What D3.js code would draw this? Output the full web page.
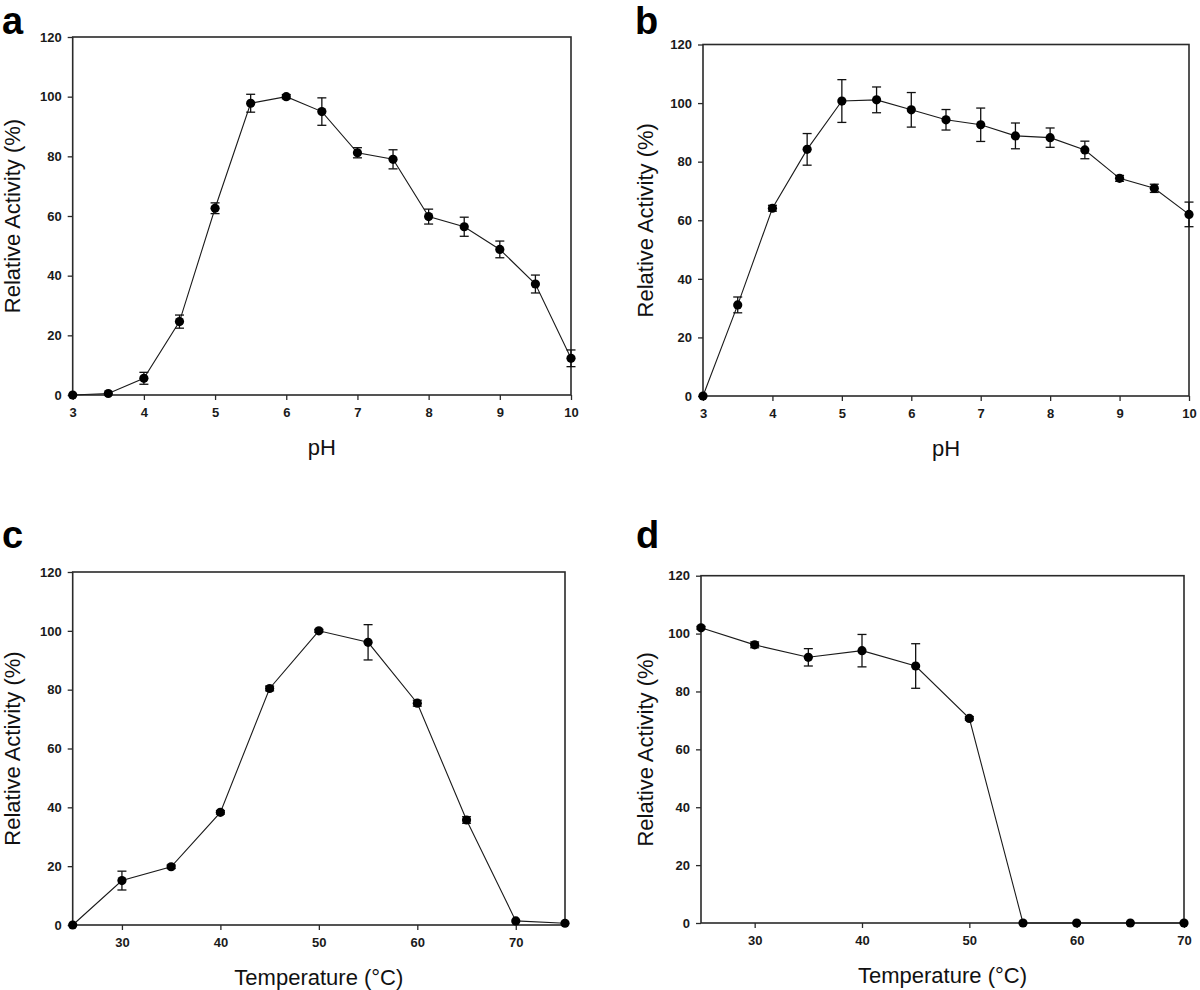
<!DOCTYPE html>
<html>
<head>
<meta charset="utf-8">
<script src="https://cdn.jsdelivr.net/npm/d3@7"></script>
<style>
  html, body { margin: 0; padding: 0; background: #fff; }
  svg { display: block; }
</style>
</head>
<body>
<svg id="chart" width="1200" height="990"></svg>
<script>
// ---------------- Data ----------------
const phValues   = [3, 3.5, 4, 4.5, 5, 5.5, 6, 6.5, 7, 7.5, 8, 8.5, 9, 9.5, 10];
const activityA  = [0, 0.5, 5.6, 24.6, 62.6, 97.8, 100, 95, 81.2, 79, 59.8, 56.4, 48.8, 37.2, 12.3];
const errorA     = [0, 0.3, 2, 2.2, 1.8, 3, 0.7, 4.6, 1.7, 3.2, 2.5, 3.2, 2.8, 3, 2.8];
const activityB  = [0, 31.1, 64.1, 84.2, 100.7, 101.1, 97.7, 94.3, 92.6, 88.8, 88.2, 84, 74.3, 70.9, 62];
const errorB     = [0, 2.7, 1, 5.4, 7.3, 4.4, 5.9, 3.5, 5.7, 4.4, 3.3, 3, 1, 1.4, 4.2];

const tempC      = [25, 30, 35, 40, 45, 50, 55, 60, 65, 70, 75];
const activityC  = [0, 15.1, 19.8, 38.3, 80.4, 100, 96.1, 75.4, 35.7, 1.4, 0.6];
const errorC     = [0, 3.2, 0.6, 0.6, 0.8, 0.5, 6, 1, 1.1, 0.3, 0.2];

const tempD      = [25, 30, 35, 40, 45, 50, 55, 60, 65, 70];
const activityD  = [102, 96.1, 91.8, 94.1, 88.8, 70.7, 0, 0, 0, 0];
const errorD     = [0.5, 1, 3, 5.6, 7.7, 0.6, 0, 0, 0, 0];

const yTicks     = [0, 20, 40, 60, 80, 100, 120];
const phTicks    = [3, 4, 5, 6, 7, 8, 9, 10];
const tempTicksC = [30, 40, 50, 60, 70];
const tempTicksD = [30, 40, 50, 60, 70];

const panelLetters = ["a", "b", "c", "d"];
const yTitle = "Relative Activity (%)";
const xTitlePH = "pH";
const xTitleTemp = "Temperature (\u00B0C)";

// ---------------- Layout ----------------
const panels = [
  { letter: panelLetters[0], lx: 2,   ly: 34,  box: [72.7, 571, 37, 395],   xDomain: [3, 10],  xTicks: phTicks,    x: phValues, y: activityA, e: errorA, xTitle: xTitlePH,   yTitleX: 20 },
  { letter: panelLetters[1], lx: 635, ly: 34,  box: [703, 1189, 44.5, 396], xDomain: [3, 10],  xTicks: phTicks,    x: phValues, y: activityB, e: errorB, xTitle: xTitlePH,   yTitleX: 653 },
  { letter: panelLetters[2], lx: 2,   ly: 548, box: [72.7, 565, 572, 925],  xDomain: [25, 75], xTicks: tempTicksC, x: tempC,    y: activityC, e: errorC, xTitle: xTitleTemp, yTitleX: 20 },
  { letter: panelLetters[3], lx: 636, ly: 548, box: [701, 1184, 575.7, 923],xDomain: [25, 70], xTicks: tempTicksD, x: tempD,    y: activityD, e: errorD, xTitle: xTitleTemp, yTitleX: 653 }
];

const svg = d3.select("#chart");
const FONT = "'Liberation Sans', Arial, sans-serif";
const AXIS_COLOR = "#2a2a2a";

panels.forEach(p => {
  const [L, R, T, B] = p.box;
  const xs = d3.scaleLinear().domain(p.xDomain).range([L, R]);
  const ys = d3.scaleLinear().domain([0, 120]).range([B, T]);
  const g = svg.append("g");

  // panel letter
  svg.append("text")
    .attr("x", p.lx).attr("y", p.ly)
    .attr("font-family", FONT).attr("font-weight", "bold").attr("font-size", 38)
    .attr("fill", "#000")
    .text(p.letter);

  // y axis
  const yAxis = g.append("g")
    .attr("transform", `translate(${L},0)`)
    .call(d3.axisLeft(ys).tickValues(yTicks).tickSize(5).tickPadding(6).tickFormat(d3.format("d")));
  // x axis
  const xAxis = g.append("g")
    .attr("transform", `translate(0,${B})`)
    .call(d3.axisBottom(xs).tickValues(p.xTicks).tickSize(5).tickPadding(8).tickFormat(d3.format("d")));

  [yAxis, xAxis].forEach(a => {
    a.select(".domain").remove();
    a.selectAll(".tick line").attr("stroke", AXIS_COLOR).attr("stroke-width", 1.3);
    a.selectAll(".tick text")
      .attr("font-family", FONT).attr("font-size", 13).attr("font-weight", "bold")
      .attr("fill", "#1a1a1a");
  });

  // frame
  g.append("rect")
    .attr("x", L).attr("y", T).attr("width", R - L).attr("height", B - T)
    .attr("fill", "none").attr("stroke", AXIS_COLOR).attr("stroke-width", 1.6);

  // axis titles
  g.append("text")
    .attr("transform", `translate(${p.yTitleX},${(T + B) / 2}) rotate(-90)`)
    .attr("text-anchor", "middle")
    .attr("font-family", FONT).attr("font-size", 22).attr("fill", "#111")
    .text(yTitle);
  g.append("text")
    .attr("x", (L + R) / 2).attr("y", B + 60)
    .attr("text-anchor", "middle")
    .attr("font-family", FONT).attr("font-size", 22).attr("fill", "#111")
    .text(p.xTitle);

  const pts = p.x.map((xv, i) => ({ x: xv, y: p.y[i], e: p.e[i] }));

  // line
  g.append("path")
    .datum(pts)
    .attr("fill", "none").attr("stroke", "#1a1a1a").attr("stroke-width", 1.1)
    .attr("d", d3.line().x(d => xs(d.x)).y(d => ys(d.y)));

  // error bars
  const eb = g.append("g").attr("stroke", "#111").attr("stroke-width", 1.3);
  pts.filter(d => d.e > 0.4).forEach(d => {
    const cx = xs(d.x), y1 = ys(d.y + d.e), y2 = ys(d.y - d.e);
    eb.append("line").attr("x1", cx).attr("x2", cx).attr("y1", y1).attr("y2", y2);
    eb.append("line").attr("x1", cx - 4.5).attr("x2", cx + 4.5).attr("y1", y1).attr("y2", y1);
    eb.append("line").attr("x1", cx - 4.5).attr("x2", cx + 4.5).attr("y1", y2).attr("y2", y2);
  });

  // markers
  g.append("g").selectAll("circle")
    .data(pts).join("circle")
    .attr("cx", d => xs(d.x)).attr("cy", d => ys(d.y))
    .attr("r", 4.6).attr("fill", "#000");
});
</script>
</body>
</html>
